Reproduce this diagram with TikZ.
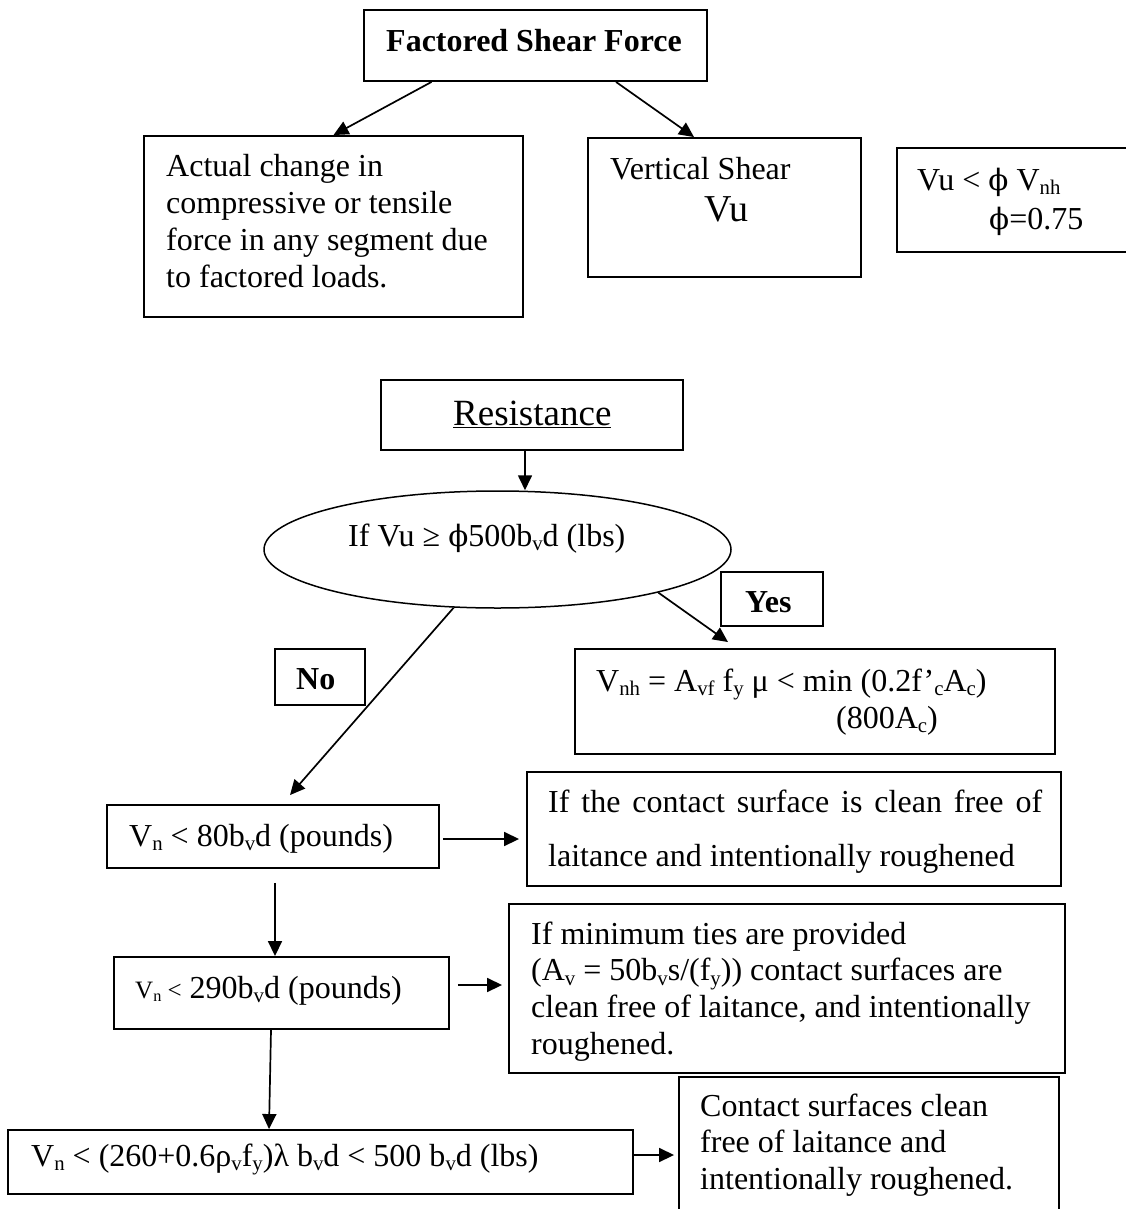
\documentclass[tikz,border=0pt]{standalone}
\usepackage{fontspec}
\setmainfont{Liberation Serif}
\newfontfamily\phfont{DejaVu Serif}
\usepackage{graphicx}
\usetikzlibrary{arrows.meta,shapes.geometric}
\newcommand\lo[1]{\raisebox{-0.14em}{\scalebox{0.65}{#1}}}
\newcommand\ph{{\phfont\scalebox{0.92}{ϕ}}}
\newcommand\ml[1]{\vtop{\halign{##\hfil\cr#1\crcr}}}
\begin{document}
\begin{tikzpicture}[x=1pt,y=-1pt,
  box/.style={draw,line width=1.9pt,inner sep=0pt},
  txt/.style={anchor=base west,inner sep=0pt,font=\fontsize{32}{36.7}\selectfont},
  bold/.style={font=\bfseries\fontsize{32}{36.7}\selectfont},
  arr/.style={-{Triangle[length=15pt,width=14pt]},line width=1.7pt}]
\path[fill=white,use as bounding box] (0,0) rectangle (1125,1209);

\node[box,minimum width=343pt,minimum height=71pt] (fsf) at (535.5,45.5) {};
\node[txt,bold] (tfsf) at (386,52) {Factored Shear Force};

\node[box,minimum width=379pt,minimum height=181pt] (act) at (333.5,226.5) {};
\node[txt] (tact) at (166,177) {\ml{Actual change in\cr compressive or tensile\cr force in any segment due\cr to factored loads.}};

\node[box,minimum width=273pt,minimum height=139pt] (vs) at (724.5,207.5) {};
\node[txt] (tvs) at (610,179) {Vertical Shear};
\node[txt,font=\fontsize{38}{44}\selectfont] (tvu) at (704,221) {Vu};

\node[box,minimum width=233pt,minimum height=104pt] (vub) at (1013.5,200) {};
\node[txt] (tvub1) at (917,190) {Vu < \ph{} V\lo{nh}};
\node[txt] (tvub2) at (989,229) {\ph=0.75};

\node[box,minimum width=302pt,minimum height=70pt] (res) at (532,415) {};
\node[txt,font=\fontsize{37}{44}\selectfont] (tres) at (453,425) {\underline{Resistance}};

\node[draw,ellipse,line width=1.5pt,inner sep=0pt,minimum width=467pt,minimum height=117pt] (ell) at (497.5,549.5) {};
\node[txt] (tell) at (348,546) {If Vu ≥ \ph500b\lo{v}d (lbs)};

\node[box,minimum width=102pt,minimum height=54pt] (yes) at (772,599) {};
\node[txt,bold] (tyes) at (745,612) {Yes};

\node[box,minimum width=90pt,minimum height=56pt] (no) at (320,677) {};
\node[txt,bold] (tno) at (296,689) {No};

\node[box,minimum width=480pt,minimum height=105pt] (vnh) at (815,701.5) {};
\node[txt] (tvnh1) at (596,691) {V\lo{nh} = A\lo{vf} f\lo{y} μ < min (0.2f’\lo{c}A\lo{c})};
\node[txt] (tvnh2) at (836,728) {(800A\lo{c})};

\node[box,minimum width=332pt,minimum height=63pt] (v80) at (273,836.5) {};
\node[txt] (tv80) at (129,846) {V\lo{n} < 80b\lo{v}d (pounds)};

\node[box,minimum width=534pt,minimum height=114pt] (ifc) at (794,829) {};
\node[txt] (tifc1) at (548,812) {\makebox[494pt][s]{If the contact surface is clean free of}};
\node[txt] (tifc2) at (548,866) {laitance and intentionally roughened};

\node[box,minimum width=335pt,minimum height=72pt] (v290) at (281.5,993) {};
\node[txt] (tv290) at (135,998) {{\fontsize{25}{30}\selectfont V\lo{n} <} 290b\lo{v}d (pounds)};

\node[box,minimum width=556pt,minimum height=169pt] (mint) at (787,988.5) {};
\node[txt] (tmint) at (531,944) {\ml{If minimum ties are provided\cr (A\lo{v} = 50b\lo{v}s/(f\lo{y})) contact surfaces are\cr clean free of laitance, and intentionally\cr roughened.}};

\node[box,minimum width=625pt,minimum height=64pt] (bot) at (320.5,1162) {};
\node[txt] (tbot) at (31,1166) {V\lo{n} < (260+0.6ρ\lo{v}f\lo{y})λ b\lo{v}d < 500 b\lo{v}d (lbs)};

\node[box,minimum width=380pt,minimum height=138pt] (con) at (869,1146) {};
\node[txt] (tcon) at (700,1116) {\ml{Contact surfaces clean\cr free of laitance and\cr intentionally roughened.}};

% connectors
\draw[arr] ([xshift=-104pt]fsf.south) -- (act.north);
\draw[arr] ([xshift=80.5pt]fsf.south) -- ([xshift=-30.5pt]vs.north);
\draw[arr] ([xshift=-7pt]res.south) -- ([xshift=27.5pt]ell.north);
\draw[arr] (ell.-15.4) -- ([xshift=-87pt,yshift=6pt]vnh.north);
\draw[arr] (ell.-127.8) -- ([xshift=17pt,yshift=9pt]v80.north);
\draw[arr] ([xshift=3pt,yshift=-2.5pt]v80.east) -- ([xshift=-7pt,yshift=-10pt]ifc.west);
\draw[arr] ([xshift=2pt,yshift=-14pt]v80.south) -- ([xshift=-6.5pt]v290.north);
\draw[arr] ([xshift=8pt,yshift=8pt]v290.east) -- ([xshift=-6pt,yshift=3.5pt]mint.west);
\draw[arr] ([xshift=-10.5pt]v290.south) -- ([xshift=-51.5pt]bot.north);
\draw[arr] ([yshift=7pt]bot.east) -- ([xshift=-4pt,yshift=-9pt]con.west);
\end{tikzpicture}
\end{document}
